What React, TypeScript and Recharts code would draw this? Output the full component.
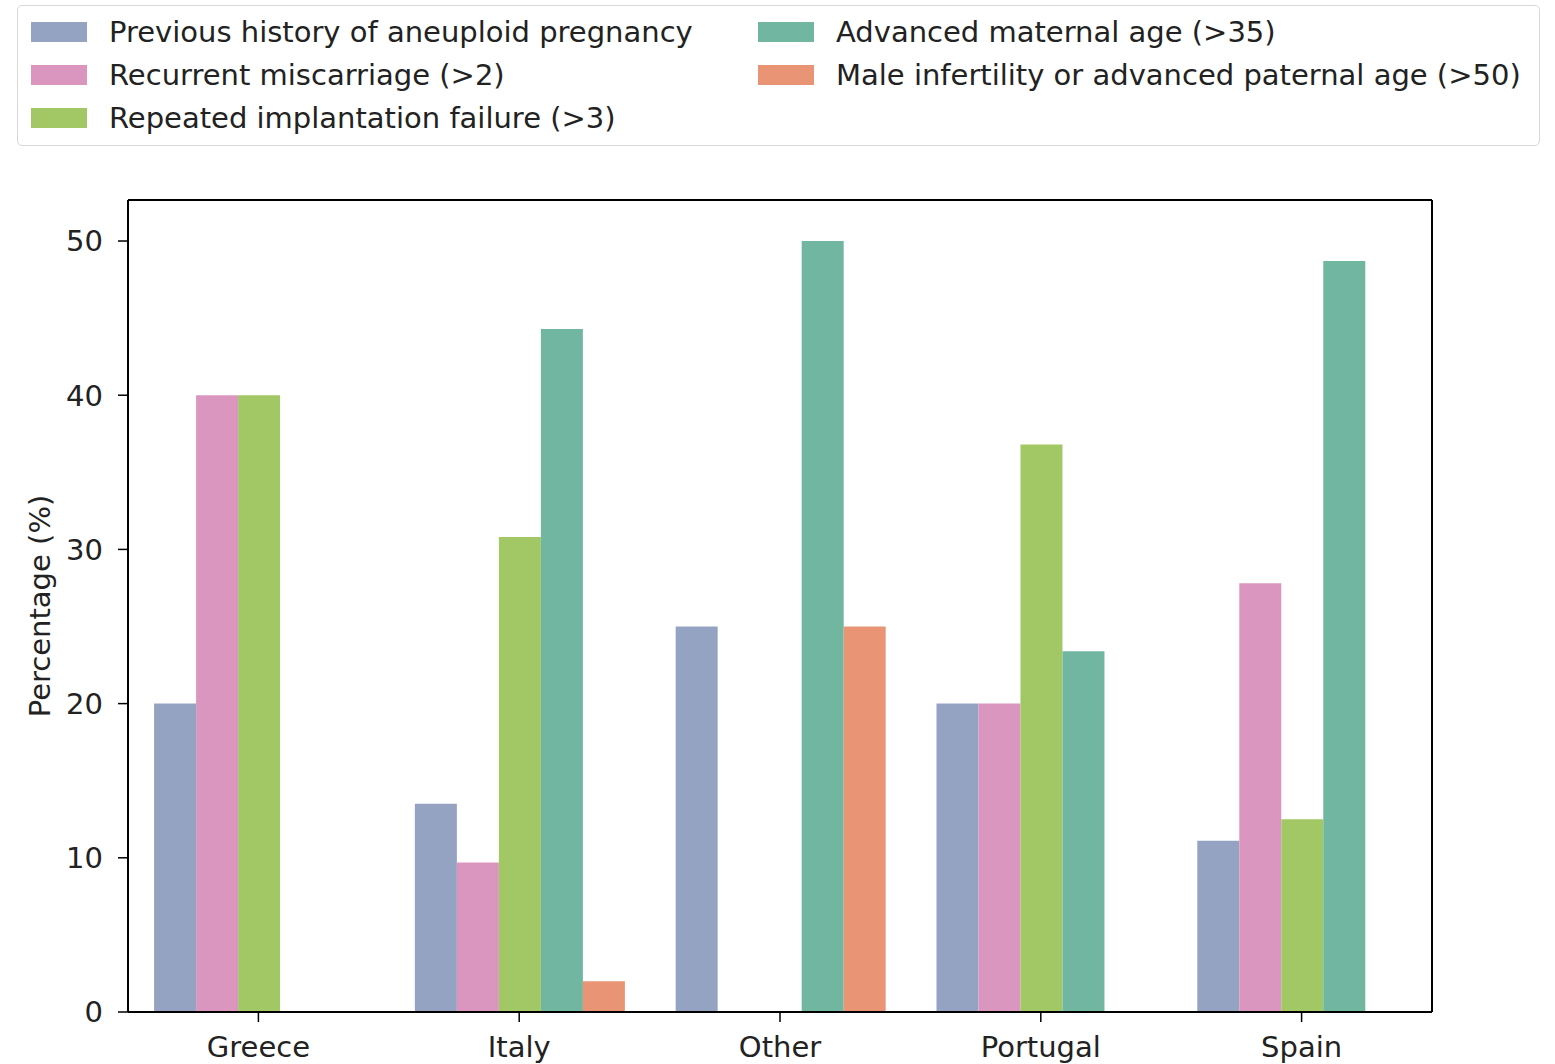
import { BarChart, Bar, XAxis, YAxis } from "recharts";

const COUNTRIES = ["Greece", "Italy", "Other", "Portugal", "Spain"];

const SERIES_NAMES = [
  "Previous history of aneuploid pregnancy",
  "Recurrent miscarriage (>2)",
  "Repeated implantation failure (>3)",
  "Advanced maternal age (>35)",
  "Male infertility or advanced paternal age (>50)",
];

const SERIES_KEYS = ["previous", "recurrent", "repeated", "maternal", "paternal"];

const COLORS = ["#95a3c3", "#db96c0", "#a2c865", "#71b6a0", "#e99575"];

const previous = [20, 13.5, 25, 20, 11.1];
const recurrent = [40, 9.7, 0, 20, 27.8];
const repeated = [40, 30.8, 0, 36.8, 12.5];
const maternal = [0, 44.3, 50, 23.4, 48.7];
const paternal = [0, 2.0, 25, 0, 0];

const Y_TICKS = [0, 10, 20, 30, 40, 50];

const data = COUNTRIES.map((country, i) => ({
  country,
  previous: previous[i],
  recurrent: recurrent[i],
  repeated: repeated[i],
  maternal: maternal[i],
  paternal: paternal[i],
}));

const FONT = "'DejaVu Sans', sans-serif";
const TEXT = "#222";
const FS = 29;

// legend item positions: two columns, filled column-first like matplotlib ncol=2
const LEGEND_COL_X = [30, 757];
const LEGEND_ROW_Y = [21, 64, 107];

function Legend() {
  return (
    <div
      style={{
        position: "absolute",
        left: 17,
        top: 5,
        width: 1521,
        height: 139,
        border: "1.5px solid #d8d8d8",
        borderRadius: 5,
        background: "#fff",
        fontFamily: FONT,
        fontSize: FS,
        color: TEXT,
      }}
    >
      {SERIES_NAMES.map((name, i) => {
        const col = i < 3 ? 0 : 1;
        const row = i < 3 ? i : i - 3;
        return (
          <div
            key={name}
            style={{
              position: "absolute",
              left: LEGEND_COL_X[col] - 17,
              top: LEGEND_ROW_Y[row] - 5,
              display: "flex",
              alignItems: "center",
              height: 20,
              whiteSpace: "nowrap",
            }}
          >
            <span
              style={{
                width: 56,
                height: 20,
                background: COLORS[i],
                display: "inline-block",
                marginRight: 22,
              }}
            />
            <span>{name}</span>
          </div>
        );
      })}
    </div>
  );
}

const yLabel = (props: any) => {
  const vb = props.viewBox;
  const cx = 40;
  const cy = vb.y + vb.height / 2;
  return (
    <text
      x={cx}
      y={cy}
      transform={`rotate(-90 ${cx} ${cy})`}
      textAnchor="middle"
      dominantBaseline="central"
      fontFamily={FONT}
      fontSize={FS}
      fill={TEXT}
    >
      Percentage (%)
    </text>
  );
};

export default function App() {
  return (
    <div
      style={{
        position: "absolute",
        left: 0,
        top: 0,
        width: 1555,
        height: 1064,
        background: "#fff",
        overflow: "hidden",
      }}
    >
      <BarChart
        width={1555}
        height={1064}
        data={data}
        margin={{ top: 199, right: 122, bottom: 0, left: 0 }}
        barCategoryGap="10%"
        barGap={0}
      >
        <XAxis
          dataKey="country"
          height={52}
          axisLine={{ stroke: "#000", strokeWidth: 2 }}
          tickLine={{ stroke: "#000", strokeWidth: 1.5 }}
          tickSize={10}
          tick={{ fontFamily: FONT, fontSize: FS, fill: TEXT, dy: 12 }}
        />
        <XAxis
          xAxisId="top"
          dataKey="country"
          orientation="top"
          height={1}
          tick={false}
          tickLine={false}
          axisLine={{ stroke: "#000", strokeWidth: 2 }}
        />
        <YAxis
          width={128}
          domain={[0, 52.66]}
          ticks={Y_TICKS}
          interval={0}
          allowDataOverflow
          axisLine={{ stroke: "#000", strokeWidth: 2 }}
          tickLine={{ stroke: "#000", strokeWidth: 1.5 }}
          tickSize={10}
          tick={{ fontFamily: FONT, fontSize: FS, fill: TEXT, dx: -13 }}
          label={yLabel}
        />
        <YAxis
          yAxisId="right"
          orientation="right"
          width={1}
          tick={false}
          tickLine={false}
          axisLine={{ stroke: "#000", strokeWidth: 2 }}
        />
        {SERIES_KEYS.map((key, i) => (
          <Bar
            key={key}
            dataKey={key}
            name={SERIES_NAMES[i]}
            fill={COLORS[i]}
            isAnimationActive={false}
          />
        ))}
      </BarChart>
      <Legend />
    </div>
  );
}
